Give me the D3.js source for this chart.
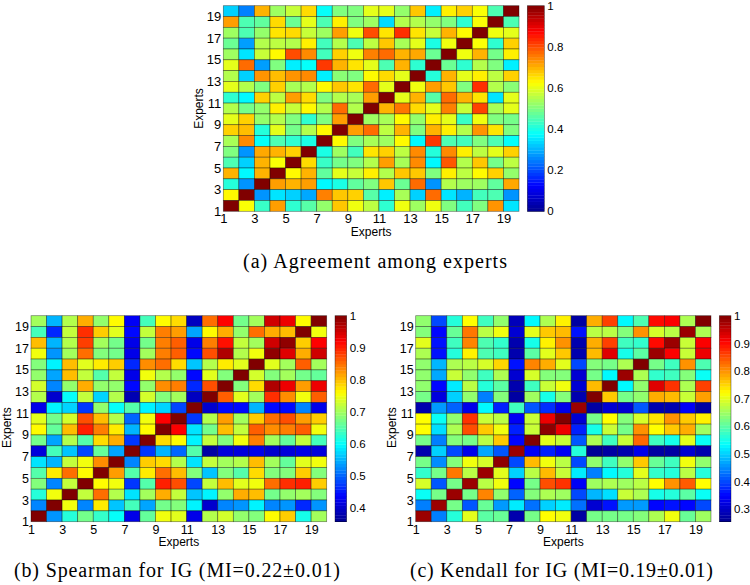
<!DOCTYPE html>
<html><head><meta charset="utf-8">
<script src="https://cdnjs.cloudflare.com/ajax/libs/d3/7.8.5/d3.min.js"></script>
<style>html,body{margin:0;padding:0;background:#fff}svg{display:block}
text{font-family:"Liberation Sans",sans-serif;fill:#000}
.cap{font-family:"Liberation Serif",serif}</style></head>
<body><svg id="c" width="750" height="585"></svg>
<script>
const expertTicks=[1,3,5,7,9,11,13,15,17,19];
const xLabel="Experts", yLabel="Experts";
// rows listed from the top of the picture (row 19) to the bottom (row 1)
const agreement=[
[.33,.25,.70,.53,.57,.66,.38,.50,.50,.60,.60,.52,.68,.36,.64,.67,.62,.45,1],
[.72,.45,.47,.66,.48,.60,.45,.64,.50,.53,.34,.55,.55,.52,.50,.42,.62,1,.45],
[.53,.45,.52,.65,.66,.57,.53,.72,.61,.80,.65,.83,.65,.57,.70,.63,1,.61,.60],
[.48,.28,.55,.56,.55,.64,.44,.55,.45,.56,.68,.54,.60,.40,.61,1,.62,.42,.67],
[.53,.35,.57,.63,.80,.74,.44,.67,.61,.75,.77,.70,.71,.48,1,.61,.70,.49,.64],
[.60,.77,.28,.50,.36,.38,.82,.70,.65,.60,.45,.70,.42,1,.48,.42,.55,.50,.36],
[.55,.33,.73,.69,.73,.74,.36,.51,.50,.63,.66,.60,1,.41,.70,.60,.64,.56,.67],
[.60,.55,.50,.67,.54,.55,.63,.68,.65,.77,.60,1,.61,.72,.68,.50,.83,.55,.51],
[.42,.37,.67,.56,.72,.66,.50,.55,.54,.72,1,.60,.70,.46,.77,.70,.65,.35,.60],
[.55,.49,.52,.64,.57,.63,.55,.77,.55,1,.70,.76,.66,.60,.75,.57,.81,.54,.60],
[.60,.67,.52,.55,.50,.42,.50,.72,1,.53,.54,.63,.52,.64,.60,.43,.61,.50,.49],
[.67,.69,.41,.60,.49,.55,.63,1,.72,.77,.56,.70,.50,.70,.64,.55,.73,.65,.50],
[.54,.74,.38,.45,.42,.40,1,.63,.50,.54,.53,.63,.37,.82,.45,.44,.50,.45,.38],
[.50,.27,.71,.70,.67,1,.40,.53,.44,.65,.67,.56,.74,.41,.74,.64,.56,.60,.67],
[.45,.33,.70,.62,1,.66,.43,.49,.50,.55,.72,.54,.74,.37,.79,.55,.68,.49,.56],
[.70,.37,.70,1,.63,.70,.47,.60,.57,.64,.55,.68,.68,.50,.64,.56,.63,.67,.52],
[.41,.27,1,.72,.70,.72,.37,.40,.47,.50,.68,.48,.77,.27,.55,.53,.53,.47,.71],
[.63,1,.27,.35,.33,.29,.75,.68,.67,.46,.36,.54,.33,.77,.35,.30,.44,.45,.27],
[1,.62,.43,.72,.42,.46,.52,.68,.61,.56,.42,.61,.53,.61,.50,.44,.50,.73,.35]];
const spearman=[
[.70,.55,.71,.81,.69,.76,.43,.64,.76,.78,.39,.85,.92,.67,.70,.95,.93,.76,1],
[.64,.46,.72,.89,.79,.74,.44,.72,.84,.82,.54,.76,.81,.69,.85,.81,.80,1,.75],
[.80,.55,.71,.88,.70,.67,.42,.67,.84,.86,.42,.84,.91,.72,.70,.95,.99,.79,.92],
[.75,.53,.70,.85,.68,.67,.42,.70,.84,.86,.44,.87,.97,.71,.75,.99,.94,.81,.95],
[.68,.59,.80,.74,.77,.79,.46,.83,.85,.78,.56,.71,.77,.74,1,.74,.70,.86,.70],
[.69,.54,.80,.72,.65,.72,.42,.75,.71,.69,.44,.74,.68,1,.73,.68,.70,.67,.66],
[.73,.52,.69,.81,.69,.69,.44,.69,.83,.84,.46,.87,1,.68,.78,.97,.93,.82,.93],
[.71,.40,.60,.72,.57,.71,.38,.73,.68,.70,.39,1,.86,.74,.70,.89,.83,.75,.86],
[.42,.59,.57,.47,.69,.60,.65,.59,.57,.48,1,.40,.44,.44,.55,.44,.44,.52,.42],
[.74,.67,.73,.87,.80,.71,.50,.75,.92,1,.47,.71,.82,.70,.79,.85,.87,.82,.79],
[.76,.66,.80,.90,.84,.77,.55,.76,1,.92,.58,.67,.80,.72,.86,.83,.84,.86,.75],
[.67,.54,.71,.65,.78,.81,.47,1,.78,.76,.59,.72,.68,.75,.84,.70,.66,.72,.64],
[.41,.64,.56,.48,.66,.54,1,.47,.55,.50,.65,.37,.41,.41,.42,.40,.41,.42,.41],
[.58,.55,.72,.75,.83,1,.52,.79,.78,.71,.58,.72,.70,.71,.80,.70,.66,.74,.75],
[.65,.77,.85,.76,1,.82,.65,.77,.85,.80,.68,.56,.68,.65,.78,.68,.68,.79,.68],
[.68,.52,.72,1,.76,.75,.47,.65,.90,.87,.48,.72,.80,.74,.75,.85,.89,.90,.79],
[.62,.75,1,.72,.85,.71,.58,.70,.81,.72,.56,.59,.69,.81,.80,.67,.69,.70,.68],
[.52,1,.75,.52,.77,.56,.64,.54,.67,.68,.59,.40,.52,.53,.59,.52,.53,.46,.53],
[1,.53,.62,.67,.63,.60,.42,.66,.75,.74,.42,.71,.73,.69,.68,.76,.79,.61,.70]];
const kendall=[
[.64,.40,.56,.72,.58,.64,.29,.53,.66,.73,.27,.78,.86,.53,.59,.90,.91,.66,1],
[.63,.35,.61,.82,.67,.71,.31,.70,.76,.77,.36,.67,.67,.63,.80,.69,.67,.98,.66],
[.70,.36,.58,.81,.59,.57,.28,.55,.73,.80,.28,.78,.86,.58,.57,.90,.98,.68,.91],
[.66,.36,.56,.73,.59,.58,.28,.60,.70,.76,.28,.77,.93,.55,.60,.98,.91,.68,.92],
[.64,.48,.66,.67,.69,.75,.36,.81,.78,.70,.40,.63,.62,.66,1,.62,.58,.80,.59],
[.64,.47,.68,.64,.58,.66,.31,.69,.63,.63,.31,.62,.53,.98,.66,.57,.58,.63,.54],
[.64,.35,.52,.67,.56,.60,.28,.58,.68,.71,.31,.77,1,.53,.64,.93,.87,.66,.86],
[.62,.32,.50,.64,.44,.63,.27,.65,.55,.63,.28,1,.76,.62,.64,.78,.77,.68,.79],
[.28,.46,.42,.33,.53,.37,.58,.41,.38,.33,.98,.27,.31,.31,.41,.28,.28,.34,.27],
[.72,.54,.64,.87,.68,.67,.34,.68,.92,1,.31,.62,.72,.63,.69,.74,.80,.76,.73],
[.72,.51,.66,.85,.76,.71,.37,.68,.99,.92,.37,.55,.68,.62,.80,.72,.76,.78,.65],
[.62,.44,.63,.62,.67,.76,.35,1,.70,.68,.41,.66,.58,.68,.83,.58,.55,.70,.54],
[.28,.50,.40,.33,.47,.41,.98,.34,.37,.34,.56,.26,.27,.28,.33,.27,.27,.31,.28],
[.62,.45,.63,.71,.69,.99,.40,.77,.71,.67,.40,.64,.58,.64,.76,.61,.58,.71,.64],
[.57,.62,.82,.67,.98,.70,.50,.67,.77,.68,.52,.44,.53,.56,.70,.57,.56,.67,.56],
[.69,.41,.62,.98,.67,.71,.35,.62,.85,.87,.34,.65,.66,.65,.67,.72,.80,.84,.72],
[.54,.62,.98,.62,.81,.64,.42,.63,.66,.65,.40,.48,.51,.68,.66,.55,.56,.60,.54],
[.44,.98,.62,.41,.61,.46,.52,.43,.50,.52,.43,.31,.36,.46,.46,.35,.36,.35,.40],
[.98,.44,.56,.70,.60,.61,.28,.62,.72,.71,.27,.62,.62,.62,.63,.66,.71,.61,.65]];
const agreementBarTicks=[0,.2,.4,.6,.8,1];
const spearmanBarTicks=[.4,.5,.6,.7,.8,.9,1];
const kendallBarTicks=[.3,.4,.5,.6,.7,.8,.9,1];
const captions=["(a) Agreement among experts","(b) Spearman for IG (MI=0.22±0.01)","(c) Kendall for IG (MI=0.19±0.01)"];

const jetStops=[[0,"#00008f"],[.125,"#0000ff"],[.375,"#00ffff"],[.625,"#ffff00"],[.875,"#ff0000"],[1,"#800000"]];
function panel(svg,o){
  const g=svg.append("g");
  const x=d3.scaleLinear().domain([1,20]).range([o.x0,o.x1]);
  const y=d3.scaleLinear().domain([1,20]).range([o.y1,o.y0]);
  const color=d3.scaleLinear().domain(jetStops.map(s=>o.vmin+s[0]*(1-o.vmin))).range(jetStops.map(s=>s[1])).clamp(true);
  const cells=o.values.flatMap((r,i)=>r.map((v,j)=>({v,col:j+1,row:19-i})));
  g.selectAll("rect.cell").data(cells).join("rect").attr("class","cell")
    .attr("x",d=>x(d.col)).attr("y",d=>y(d.row+1))
    .attr("width",d=>x(d.col+1)-x(d.col)).attr("height",d=>y(d.row)-y(d.row+1))
    .attr("fill",d=>color(d.v)).attr("stroke","#000").attr("stroke-opacity",.5).attr("stroke-width",.7);
  const ax=g.append("g").attr("transform",`translate(0,${o.y1})`)
    .call(d3.axisBottom(x).tickValues(expertTicks).tickSize(0).tickPadding(o.tickPad).tickFormat(d3.format("d")));
  const ay=g.append("g").attr("transform",`translate(${o.x0},0)`)
    .call(d3.axisLeft(y).tickValues(expertTicks).tickSize(0).tickPadding(2).tickFormat(d3.format("d")));
  [ax,ay].forEach(a=>{a.select(".domain").remove();a.selectAll("text").attr("font-size",o.fs).attr("font-family","Liberation Sans");});
  g.append("text").attr("x",(o.x0+o.x1)/2).attr("y",o.y1+24.5).attr("text-anchor","middle").attr("font-size",12).text(xLabel);
  g.append("text").attr("transform",`translate(${o.ylx},${(o.y0+o.y1)/2+o.yld}) rotate(-90)`).attr("text-anchor","middle").attr("font-size",12).text(yLabel);
  // colour bar
  const by=d3.scaleLinear().domain([o.vmin,1]).range([o.y1,o.y0]);
  const levels=d3.range(64).map(k=>o.vmin+k*(1-o.vmin)/64);
  g.selectAll("rect.bar").data(levels).join("rect").attr("class","bar")
    .attr("x",o.bx0).attr("width",o.bx1-o.bx0)
    .attr("y",d=>by(d+(1-o.vmin)/64)).attr("height",d=>by(d)-by(d+(1-o.vmin)/64)+.3)
    .attr("fill",d=>color(d+(1-o.vmin)/128));
  g.append("rect").attr("x",o.bx0).attr("y",o.y0).attr("width",o.bx1-o.bx0).attr("height",o.y1-o.y0)
    .attr("fill","none").attr("stroke","#000").attr("stroke-opacity",.6).attr("stroke-width",.6);
  const bx=g.append("g").attr("transform",`translate(${o.bx1},0)`)
    .call(d3.axisRight(by).tickValues(o.barTicks).tickSize(0).tickPadding(3).tickFormat(d3.format("~g")));
  bx.select(".domain").remove();
  bx.selectAll("text").attr("font-size",11.5).attr("font-family","Liberation Sans");
  g.append("text").attr("class","cap").attr("x",o.cx).attr("y",o.cy).attr("font-size",o.cfs)
    .attr("textLength",o.cw).text(o.caption);
}
const svg=d3.select("#c");
panel(svg,{values:agreement,vmin:0,barTicks:agreementBarTicks,x0:223.3,x1:519,y0:5.7,y1:211.3,bx0:527.3,bx1:544.3,
  ylx:203,yld:0,fs:13,tickPad:2,caption:captions[0],cx:243,cy:268,cw:264,cfs:20});
panel(svg,{values:spearman,vmin:.355,barTicks:spearmanBarTicks,x0:31,x1:326.7,y0:315.7,y1:521.7,bx0:335,bx1:346.7,
  ylx:11,yld:9,fs:12.5,tickPad:3,caption:captions[1],cx:14,cy:577,cw:326,cfs:20});
panel(svg,{values:kendall,vmin:.254,barTicks:kendallBarTicks,x0:415.7,x1:711,y0:315.7,y1:521.7,bx0:719.3,bx1:731,
  ylx:396,yld:9,fs:12.5,tickPad:3,caption:captions[2],cx:410,cy:577,cw:303,cfs:20});
</script></body></html>
